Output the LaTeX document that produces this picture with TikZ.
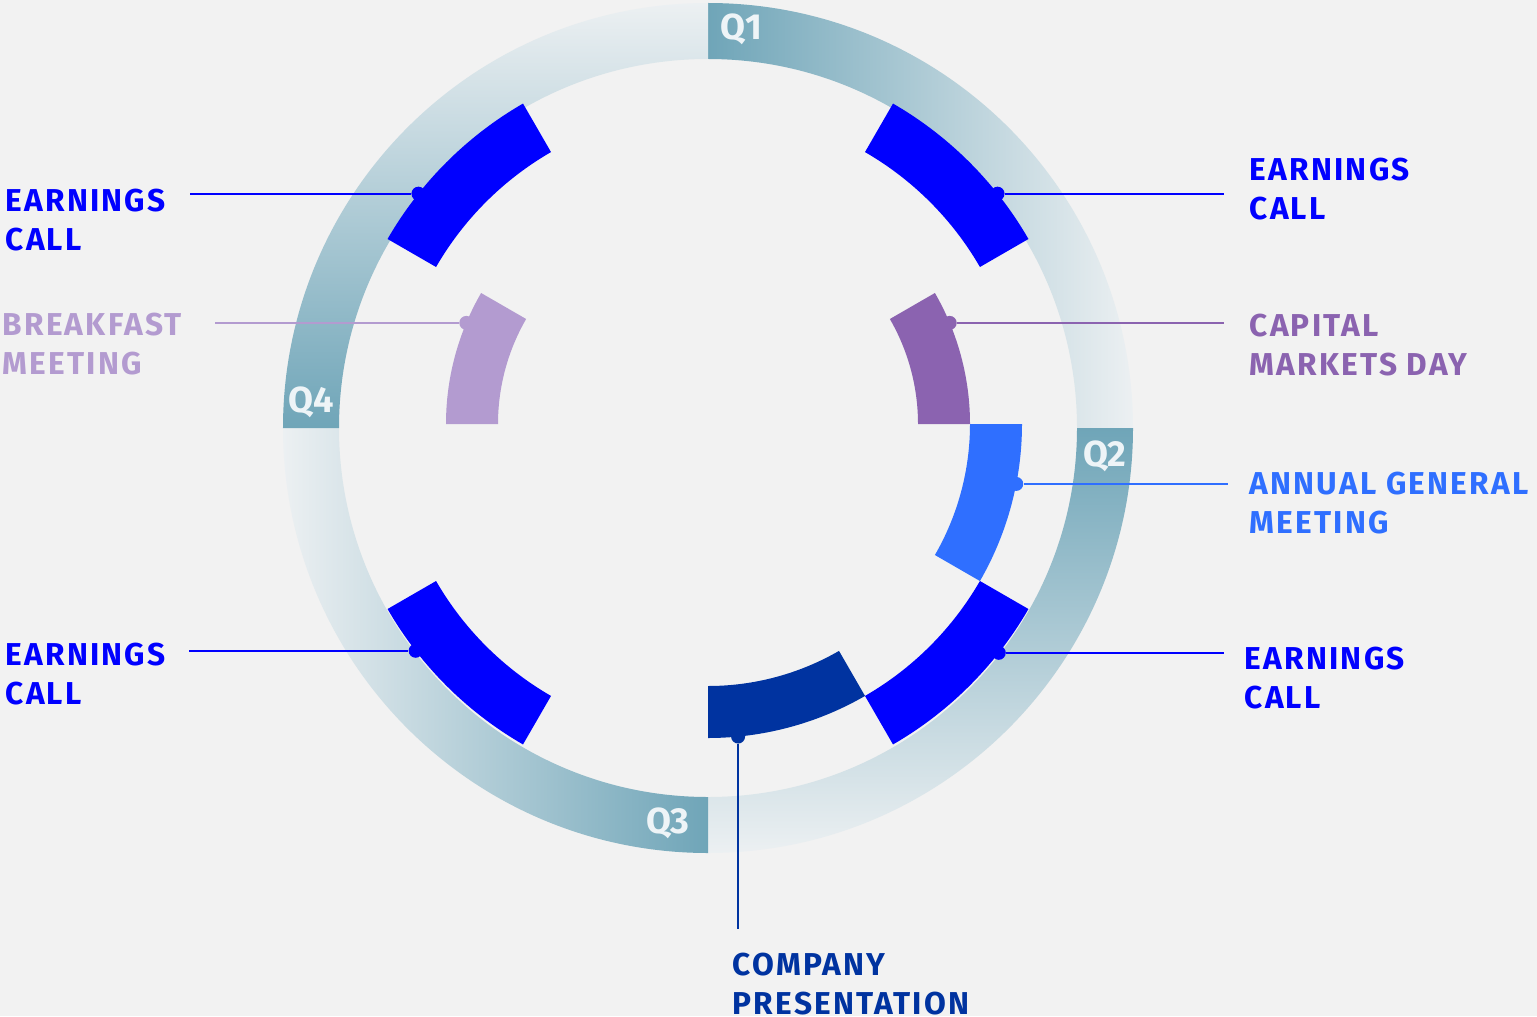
\documentclass[tikz,border=0pt]{standalone}
\usepackage{fontspec}
\usepackage{xcolor}
\usepackage{tikz}
\usetikzlibrary{positioning}
\newfontfamily\lblfont[LetterSpace=7]{Fira Sans}
\newfontfamily\qfont{Fira Sans}

\definecolor{bgc}{HTML}{F2F2F2}
\definecolor{ringteal}{RGB}{111,165,184}
\definecolor{ringfade}{RGB}{236,240,242}
\definecolor{earnblue}{RGB}{0,0,255}
\definecolor{capviolet}{RGB}{139,99,176}
\definecolor{bfviolet}{RGB}{179,155,208}
\definecolor{agmblue}{RGB}{47,111,255}
\definecolor{cpnavy}{RGB}{0,51,160}
\definecolor{qwhite}{RGB}{238,244,247}

\begin{document}
\begin{tikzpicture}[
    lbl/.style={anchor=north west, inner sep=0pt, align=left, font=\lblfont\bfseries\fontsize{9}{11.06}\selectfont},
    qlbl/.style={inner sep=0pt, text=qwhite, font=\qfont\bfseries\fontsize{10.3}{12}\selectfont},
    conn/.style={line width=0.6pt},
    evdot/.style={circle, fill, inner sep=0pt, minimum size=0.14cm}
]
    \fill[bgc] (-7.08,-5.88) rectangle (8.29,4.28);
    \useasboundingbox (-7.08,-5.88) rectangle (8.29,4.28);

    % quarters of the year ring
    \shade[left color=ringteal, right color=ringfade] (90:4.25) arc[start angle=90, end angle=0, radius=4.25cm] -- (0:3.69) arc[start angle=0, end angle=90, radius=3.69cm] -- cycle;
    \shade[top color=ringteal, bottom color=ringfade] (0:4.25) arc[start angle=0, end angle=-90, radius=4.25cm] -- (-90:3.69) arc[start angle=-90, end angle=0, radius=3.69cm] -- cycle;
    \shade[right color=ringteal, left color=ringfade] (-90:4.25) arc[start angle=-90, end angle=-180, radius=4.25cm] -- (180:3.69) arc[start angle=180, end angle=270, radius=3.69cm] -- cycle;
    \shade[bottom color=ringteal, top color=ringfade] (180:4.25) arc[start angle=180, end angle=90, radius=4.25cm] -- (90:3.69) arc[start angle=90, end angle=180, radius=3.69cm] -- cycle;

    \node[qlbl, anchor=base west] (q1) at (0.12,3.88) {Q1};
    \node[qlbl, anchor=base west] (q2) at (3.75,-0.38) {Q2};
    \node[qlbl, anchor=base east] (q3) at (-0.18,-4.05) {Q3};
    \node[qlbl, anchor=base west] (q4) at (-4.20,0.16) {Q4};

    % events
    \begin{scope}[shift={(0,0.04)}]
        \fill[earnblue] (30:3.14) arc[start angle=30, end angle=60, radius=3.14cm] -- (60:3.70) arc[start angle=60, end angle=30, radius=3.70cm] -- cycle;
        \fill[earnblue] (120:3.14) arc[start angle=120, end angle=150, radius=3.14cm] -- (150:3.70) arc[start angle=150, end angle=120, radius=3.70cm] -- cycle;
        \fill[earnblue] (210:3.14) arc[start angle=210, end angle=240, radius=3.14cm] -- (240:3.70) arc[start angle=240, end angle=210, radius=3.70cm] -- cycle;
        \fill[earnblue] (300:3.14) arc[start angle=300, end angle=330, radius=3.14cm] -- (330:3.70) arc[start angle=330, end angle=300, radius=3.70cm] -- cycle;
        \fill[capviolet] (0:2.10) arc[start angle=0, end angle=30, radius=2.10cm] -- (30:2.62) arc[start angle=30, end angle=0, radius=2.62cm] -- cycle;
        \fill[bfviolet] (150:2.10) arc[start angle=150, end angle=180, radius=2.10cm] -- (180:2.62) arc[start angle=180, end angle=150, radius=2.62cm] -- cycle;
        \fill[agmblue] (0:2.62) arc[start angle=0, end angle=-30, radius=2.62cm] -- (-30:3.14) arc[start angle=-30, end angle=0, radius=3.14cm] -- cycle;
        \fill[cpnavy] (-90:2.62) arc[start angle=-90, end angle=-60, radius=2.62cm] -- (-60:3.14) arc[start angle=-60, end angle=-90, radius=3.14cm] -- cycle;

        \node[evdot, earnblue] (ecURdot) at (38.5:3.70) {};
        \node[evdot, earnblue] (ecULdot) at (141.5:3.70) {};
        \node[evdot, earnblue] (ecLLdot) at (217.8:3.70) {};
        \node[evdot, earnblue] (ecLRdot) at (-38.2:3.70) {};
        \node[evdot, capviolet] (cmdDot) at (22.7:2.62) {};
        \node[evdot, bfviolet] (bfDot) at (157.3:2.62) {};
        \node[evdot, agmblue] (agmDot) at (-11:3.14) {};
        \node[evdot, cpnavy] (cpDot) at (-84.5:3.14) {};
    \end{scope}

    % line ends
    \coordinate (ecURend) at (5.16,0);
    \coordinate (ecULend) at (-5.18,0);
    \coordinate (ecLLend) at (-5.19,0);
    \coordinate (ecLRend) at (5.16,0);
    \coordinate (cmdEnd) at (5.16,0);
    \coordinate (bfEnd) at (-4.93,0);
    \coordinate (agmEnd) at (5.20,0);
    \coordinate (cpEnd) at (0,-5.01);

    \draw[conn, earnblue] (ecURdot) -- (ecURdot -| ecURend);
    \draw[conn, earnblue] (ecULdot) -- (ecULdot -| ecULend);
    \draw[conn, earnblue] (ecLLdot) -- (ecLLdot -| ecLLend);
    \draw[conn, earnblue] (ecLRdot) -- (ecLRdot -| ecLRend);
    \draw[conn, capviolet] (cmdDot) -- (cmdDot -| cmdEnd);
    \draw[conn, bfviolet] (bfDot) -- (bfDot -| bfEnd);
    \draw[conn, agmblue] (agmDot) -- (agmDot -| agmEnd);
    \draw[conn, cpnavy] (cpDot) -- (cpDot |- cpEnd);

    % labels
    \node[lbl, text=earnblue] (ecURlbl) at (5.41,2.71) {EARNINGS\\CALL};
    \node[lbl, text=earnblue] (ecULlbl) at (-7.03,2.40) {EARNINGS\\CALL};
    \node[lbl, text=earnblue] (ecLLlbl) at (-7.03,-2.14) {EARNINGS\\CALL};
    \node[lbl, text=earnblue] (ecLRlbl) at (5.36,-2.18) {EARNINGS\\CALL};
    \node[lbl, text=capviolet] (cmdLbl) at (5.41,1.15) {CAPITAL\\MARKETS DAY};
    \node[lbl, text=bfviolet] (bfLbl) at (-7.06,1.16) {BREAKFAST\\MEETING};
    \node[lbl, text=agmblue] (agmLbl) at (5.41,-0.43) {ANNUAL GENERAL\\MEETING};
    \node[lbl, text=cpnavy] (cpLbl) at (0.24,-5.24) {COMPANY\\PRESENTATION};
\end{tikzpicture}
\end{document}
